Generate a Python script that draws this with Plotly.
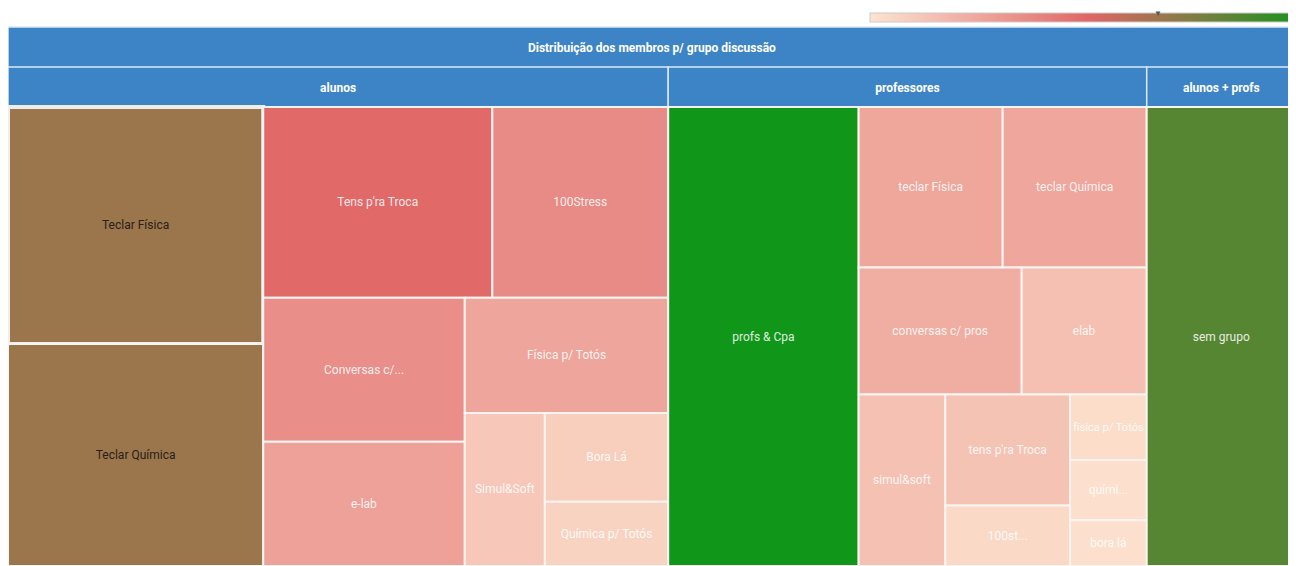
import plotly.graph_objects as go
from plotly.colors import sample_colorscale

TITLE = "Distribuição dos membros p/ grupo discussão"
GROUPS = ["alunos", "professores", "alunos + profs"]

# leaves per group: label, size, colour value (0..1 along the scale)
ALUNOS_LABELS = ["Teclar Física", "Teclar Química", "Tens p'ra Troca", "100Stress",
                 "Conversas c/...", "e-lab", "Física p/ Totós", "Simul&Soft",
                 "Bora Lá", "Química p/ Totós"]
ALUNOS_SIZES = [60.2, 56.4, 43.5, 33.4, 28.9, 24.9, 23.3, 12.2, 10.9, 7.9]
ALUNOS_COLOR = [0.665, 0.665, 0.49, 0.356, 0.34, 0.264, 0.25, 0.11, 0.088, 0.068]

PROFS_LABELS = ["profs & Cpa", "teclar Física", "teclar Química", "conversas c/ pros",
                "elab", "simul&soft", "tens p'ra Troca", "100st...", "física p/ Totós",
                "quími...", "bora lá"]
PROFS_SIZES = [87, 23, 23, 20.6, 15.8, 14.8, 13.8, 7.5, 5.0, 4.6, 3.5]
PROFS_COLOR = [1.0, 0.248, 0.245, 0.216, 0.144, 0.14, 0.132, 0.044, 0.028, 0.016, 0.016]

MISTO_LABELS = ["sem grupo"]
MISTO_SIZES = [68.2]
MISTO_COLOR = [0.83]

HIGHLIGHT = "Teclar Física"
MARKER_VALUE = 0.665  # value of the highlighted cell, shown over the scale

_SCALE = [[0.0, "#fde4d0"], [0.5, "#e06666"], [1.0, "#109618"]]
_HEADER = "#3d84c6"
_HEADER_LINE = "#dce8f4"
_W, _H, _TOP = 1288, 558, 19
_BAR_X0, _BAR_PX = 862, 440

ids, labels, names, parents, values = [], [], [], [], []
colors, text_colors, line_w, line_c = [], [], [], []


def _header(node_id, name, parent):
    ids.append(node_id); names.append(name); parents.append(parent)
    # headers only show their label; a tiny blank first line moves it down into the band
    labels.append(f"<span style='font-size:7px'>\u00a0</span><br><b>{name}</b>")
    values.append(0); colors.append(_HEADER); text_colors.append("white")
    line_w.append(1.5); line_c.append(_HEADER_LINE)


_header("root", TITLE, "")
groups = [
    (GROUPS[0], ALUNOS_LABELS, ALUNOS_SIZES, ALUNOS_COLOR),
    (GROUPS[1], PROFS_LABELS, PROFS_SIZES, PROFS_COLOR),
    (GROUPS[2], MISTO_LABELS, MISTO_SIZES, MISTO_COLOR),
]
for g, labs, sizes, cvals in groups:
    _header(g, g, "root")
    leaf_colors = sample_colorscale(_SCALE, cvals)
    for lab, s, c in zip(labs, sizes, leaf_colors):
        ids.append(f"{g}/{lab}"); labels.append(lab); names.append(lab); parents.append(g)
        values.append(s); colors.append(c)
        dark = g == "alunos" and lab.startswith("Teclar")
        text_colors.append("#2a2018" if dark else "rgba(255,255,255,0.88)")
        if g == "alunos" and lab == HIGHLIGHT:
            line_w.append(4); line_c.append("#eeeeee")
        else:
            line_w.append(2); line_c.append("#f8f4f2")

fig = go.Figure()
fig.add_trace(
    go.Treemap(
        ids=ids, labels=labels, parents=parents, values=values, customdata=names,
        branchvalues="remainder", sort=True,
        marker=dict(colors=colors, depthfade=False, pad=dict(t=40, l=0, r=0, b=0),
                    line=dict(width=line_w, color=line_c)),
        tiling=dict(packing="squarify", pad=0),
        textinfo="label", textposition="middle center",
        textfont=dict(family="Roboto, Arial, sans-serif", size=12, color=text_colors),
        pathbar=dict(visible=False),
        hovertemplate="%{customdata}: %{value}<extra></extra>",
    )
)
# dummy trace only carrying the colour scale bar
plot_h = _H - _TOP
fig.add_trace(
    go.Scatter(
        x=[None], y=[None], mode="markers", showlegend=False, hoverinfo="skip",
        marker=dict(color=[0, 1], colorscale=_SCALE, cmin=0, cmax=1, showscale=True,
                    colorbar=dict(orientation="h", x=_BAR_X0 / _W, xanchor="left",
                                  y=(_H - 10.5) / plot_h, yanchor="middle",
                                  len=_BAR_PX, lenmode="pixels",
                                  thickness=9, outlinewidth=1, outlinecolor="#cccccc",
                                  showticklabels=False, ticks="", xpad=0, ypad=0)),
    )
)
fig.add_annotation(x=(_BAR_X0 + _BAR_PX * MARKER_VALUE) / _W, y=_H / plot_h,
                   xref="paper", yref="paper", text="▼", showarrow=False,
                   yanchor="top", font=dict(size=8, color="#555"), borderpad=0)
fig.update_layout(
    width=_W, height=_H, margin=dict(l=0, r=0, t=_TOP, b=0, autoexpand=False),
    paper_bgcolor="white", plot_bgcolor="white",
    xaxis=dict(visible=False), yaxis=dict(visible=False),
    font=dict(family="Roboto, Arial, sans-serif"),
)
fig.write_html("out.html")
